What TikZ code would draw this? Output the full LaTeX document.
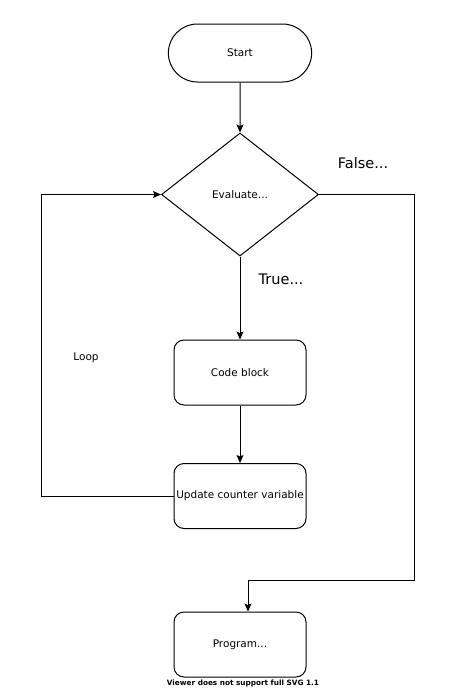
\documentclass[tikz,border=0pt]{standalone}
\usepackage{fontspec}
\setmainfont{DejaVu Sans}
\usetikzlibrary{arrows.meta,shapes.misc,shapes.geometric}
\usetikzlibrary{positioning}

\tikzset{
	flow/.style={draw, line width=1pt, align=center, font=\fontsize{10.5}{12}\selectfont},
	terminal/.style={flow, rounded rectangle, minimum width=150pt, minimum height=58pt},
	decision/.style={flow, diamond, inner sep=0pt, minimum width=157pt, minimum height=123pt},
	process/.style={flow, rectangle, rounded corners=10pt, minimum width=132pt, minimum height=65pt, inner sep=1pt},
	link/.style={line width=1pt, -{Stealth[length=8pt,width=7pt,inset=1.5pt]}},
	branch/.style={font=\fontsize{14.5}{16}\selectfont}
}

\begin{document}
\begin{tikzpicture}[x=1pt, y=-1pt]
		\useasboundingbox (0,0) rectangle (474,689);
		% blocks
		\node[terminal] (start) at (240,53) {Start}; %% entry
		\node[decision] (eval) at (240,194.5) {\raisebox{-4pt}{Evaluate...}}; %% test
		\node[process] (code) at (240,372.5) {Code block}; %% body
		\node[process] (upd) at (240,496) {Update counter variable}; %% step
		\node[process] (prog) at (240,644.5) {Program...}; %% exit
		% bends
		\coordinate (loopc) at (41,496); %% loop corner
		\coordinate (exitc) at (414,580); %% exit corner
		% connectors
		\draw[link] (start) -- (eval);
		\draw[link] (eval) -- (code);
		\draw[link] (code) -- (upd);
		\draw[link] (upd.west) -- (loopc) |- (eval.west); %% loop back
		\draw[link] (eval.east) -| (exitc) -| ([xshift=8pt]prog.north); %% leave loop
		% labels
		\node[branch] (false) at (363,163) {False...};
		\node[branch] (true) at (281,279) {True...};
		\node[font=\fontsize{10.5}{12}\selectfont] (loop) at (86,358) {Loop};
		\node[font=\bfseries\fontsize{7.3}{8}\selectfont, inner sep=0pt] (note) at (243,683) {Viewer does not support full SVG 1.1};
	\end{tikzpicture}
\end{document}
